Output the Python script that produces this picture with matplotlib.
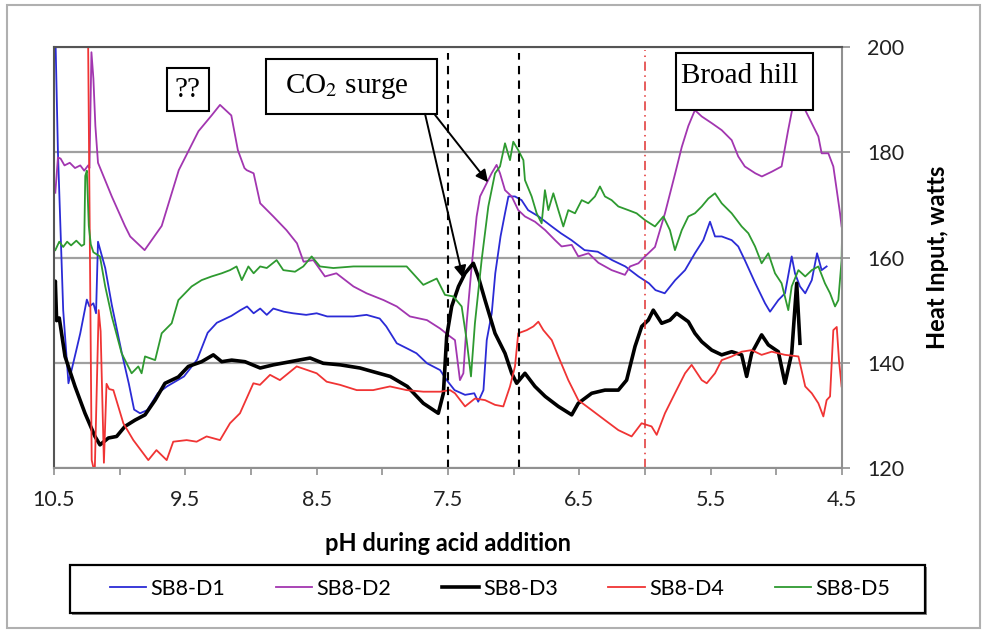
import matplotlib.pyplot as plt
from matplotlib.patches import Rectangle

plt.rcParams['font.family'] = ['Lato', 'DejaVu Sans']
plt.rcParams['mathtext.fontset'] = 'stix'

# SB8-D1 (blue)
ph_d1 = [10.49, 10.47, 10.43, 10.39, 10.33, 10.30, 10.25, 10.23, 10.20, 10.18, 10.165, 10.11,
         10.06, 9.985, 9.93, 9.89, 9.845, 9.79, 9.71, 9.64, 9.51, 9.41, 9.33, 9.26, 9.15, 9.08,
         9.03, 8.98, 8.93, 8.88, 8.83, 8.75, 8.68, 8.58, 8.50, 8.42, 8.22, 8.12, 8.02, 7.97, 7.89,
         7.81, 7.74, 7.66, 7.56, 7.51, 7.45, 7.37, 7.30, 7.27, 7.23, 7.205, 7.167, 7.14, 7.10,
         7.066, 7.04, 6.99, 6.94, 6.89, 6.81, 6.71, 6.64, 6.56, 6.46, 6.36, 6.25, 6.15, 6.05, 5.97,
         5.92, 5.85, 5.77, 5.695, 5.62, 5.556, 5.505, 5.467, 5.416, 5.34, 5.29, 5.24, 5.16, 5.086,
         5.048, 4.985, 4.934, 4.883, 4.858, 4.82, 4.78, 4.73, 4.69, 4.655, 4.617]
w_d1 = [203, 180, 150, 136.1, 142.4, 145.6, 152, 150.7, 151.3, 149.4, 163, 158,
        151, 142, 136, 131.1, 130.4, 131, 134.2, 135.5, 137.4, 140.6, 145.7, 147.6, 148.9, 150.0,
        150.7, 149.4, 150.3, 149.1, 150.3, 149.7, 149.4, 149.1, 149.4, 148.8, 148.8, 149.1, 148.4, 146.9, 143.7,
        142.7, 141.8, 139.9, 138.6, 136.7, 134.8, 133.9, 134.2, 132.6, 134.8, 144.3, 149.4, 157.0, 164.0,
        168.4, 171.6, 171.6, 170.9, 169.0, 167.8, 165.9, 164.6, 163.3, 161.4, 161.1, 159.5, 158.3, 156.4, 155.1,
        153.8, 153.2, 155.7, 157.6, 160.8, 163.3, 166.8, 164, 164, 163.3, 162.1, 159.5, 155.1, 151.3,
        149.7, 151.9, 153.2, 160.2, 157, 154.5, 153.2, 155.7, 160.8, 157.6, 158.3]

# SB8-D2 (purple)
ph_d2 = [10.49, 10.47, 10.45, 10.42, 10.38, 10.34, 10.30, 10.27, 10.24, 10.23, 10.215, 10.20,
         10.185, 10.165, 10.06, 9.96, 9.92, 9.81, 9.68, 9.55, 9.40, 9.30, 9.236, 9.15, 9.10,
         9.05, 9.033, 8.98, 8.93, 8.83, 8.73, 8.65, 8.60, 8.525, 8.437, 8.35, 8.22, 8.12, 7.99,
         7.89, 7.79, 7.66, 7.56, 7.485, 7.447, 7.409, 7.383, 7.358, 7.32, 7.282, 7.256, 7.218,
         7.168, 7.13, 7.104, 7.066, 7.015, 6.965, 6.914, 6.838, 6.76, 6.685, 6.635, 6.558, 6.508,
         6.43, 6.355, 6.254, 6.153, 6.114, 6.05, 6.0, 5.924, 5.848, 5.77, 5.72, 5.67, 5.62, 5.568,
         5.49, 5.416, 5.34, 5.29, 5.24, 5.16, 5.11, 5.035, 4.96, 4.91, 4.87, 4.83, 4.78, 4.73,
         4.68, 4.655, 4.604, 4.566, 4.54, 4.515, 4.503]
w_d2 = [172.3, 179, 178.8, 177.5, 178, 177, 177.5, 176.5, 177.5, 177, 199, 194,
        185, 178, 171.6, 166, 164, 161.4, 166, 176.6, 184, 187, 189, 187, 180.4,
        177, 176.6, 176, 170.3, 167.8, 165.2, 162.7, 159.2, 159.5, 156.4, 157, 154.5, 153.2, 151.9,
        150.7, 148.8, 148.1, 146.5, 145.0, 144.3, 136.7, 138, 147.5, 158.3, 167.8, 171.6, 173.5,
        176, 177.6, 176, 172.8, 171.6, 169, 167.8, 166.8, 165.2, 163.3, 162.1, 162.4, 160.2,
        160.8, 159, 157.6, 156.7, 158.3, 158.9, 160.2, 162, 168.4, 176, 181, 185, 188, 186.8,
        185.5, 184.2, 182.3, 179.2, 177.3, 176, 175.4, 176.3, 177.3, 184.2, 189.3, 189.9, 188, 185.5,
        183, 179.8, 179.8, 177.3, 172.8, 168.4, 165.9]

# SB8-D3 (black)
ph_d3 = [10.5, 10.49, 10.48, 10.46, 10.416, 10.34, 10.264, 10.188, 10.15, 10.086, 10.023, 9.96,
         9.883, 9.807, 9.73, 9.655, 9.553, 9.477, 9.376, 9.287, 9.223, 9.147, 9.046, 8.93, 8.83,
         8.68, 8.55, 8.45, 8.32, 8.17, 8.07, 7.94, 7.81, 7.688, 7.574, 7.535, 7.51, 7.472, 7.42,
         7.37, 7.307, 7.27, 7.218, 7.142, 7.066, 7.015, 6.977, 6.914, 6.838, 6.76, 6.66, 6.558,
         6.508, 6.406, 6.305, 6.203, 6.14, 6.076, 6.025, 5.975, 5.937, 5.873, 5.81, 5.759, 5.67,
         5.62, 5.568, 5.492, 5.416, 5.34, 5.264, 5.226, 5.188, 5.112, 5.061, 4.985, 4.934, 4.883,
         4.845, 4.82]
w_d3 = [151, 155.5, 148, 148.5, 141.2, 135.5, 130.4, 126, 124.4, 125.7, 126, 127.9,
        129.1, 130.1, 132.9, 136.1, 137.3, 139.3, 140.2, 141.5, 140.2, 140.5, 140.2, 139.0, 139.6,
        140.3, 140.9, 139.9, 139.6, 139.0, 138.3, 137.4, 135.5, 132.3, 130.4, 134.2, 145.0, 150.7, 154.5,
        157, 158.9, 156.4, 151.9, 145.6, 141.8, 138, 136.1, 138, 135.5, 133.6, 131.7, 130.1,
        132.3, 134.2, 134.8, 134.8, 136.7, 143.1, 146.9, 148.1, 150, 147.5, 148.1, 149.4, 147.8,
        145.6, 144, 142.4, 141.5, 142.1, 141.5, 137.4, 141.8, 145.3, 143.4, 142.1, 136.1, 141.8,
        155.1, 143.7]

# SB8-D4 (red)
ph_d4 = [10.245, 10.213, 10.19, 10.16, 10.145, 10.12, 10.10, 10.08, 10.048, 9.972, 9.896, 9.782,
         9.72, 9.642, 9.592, 9.49, 9.414, 9.338, 9.236, 9.16, 9.084, 8.982, 8.932, 8.855, 8.78,
         8.652, 8.5, 8.424, 8.322, 8.195, 8.07, 7.942, 7.815, 7.688, 7.56, 7.485, 7.447, 7.37,
         7.295, 7.218, 7.142, 7.079, 7.028, 6.99, 6.965, 6.9, 6.85, 6.812, 6.774, 6.71, 6.66,
         6.584, 6.508, 6.406, 6.305, 6.203, 6.102, 6.026, 5.95, 5.911, 5.848, 5.772, 5.695, 5.645,
         5.568, 5.53, 5.467, 5.416, 5.34, 5.264, 5.188, 5.112, 5.035, 4.934, 4.832, 4.78, 4.73,
         4.68, 4.642, 4.617, 4.591, 4.566, 4.54, 4.523, 4.503]
w_d4 = [215, 121.5, 119, 150, 146, 121, 136, 135, 134.8, 128.5, 125.3, 121.5,
        123.4, 121.5, 125, 125.3, 125, 126, 125.3, 128.5, 130.4, 136.1, 135.8, 137.7, 136.7,
        139.3, 138, 136.4, 135.8, 134.8, 134.8, 135.5, 134.8, 134.5, 134.5, 134.8, 134.2, 131.7,
        133.2, 132.9, 132, 131.7, 135.5, 139.3, 145.6, 146.2, 146.9, 147.8, 146.2, 144.3, 141.2,
        136.7, 132.9, 131, 129.1, 127.2, 126, 128.5, 127.9, 126.3, 130.4, 134.2, 138, 139.6,
        136.7, 136.1, 138, 140.5, 141.2, 142.1, 142.4, 141.5, 142.1, 141.5, 141.2, 135.5, 134.2,
        132.3, 129.8, 132.9, 133.6, 146.2, 146.8, 140.5, 135.5]

# SB8-D5 (green)
ph_d5 = [10.49, 10.46, 10.43, 10.40, 10.37, 10.33, 10.29, 10.27, 10.262, 10.25, 10.235, 10.22,
         10.20, 10.15, 10.11, 10.06, 9.985, 9.909, 9.858, 9.833, 9.807, 9.73, 9.68, 9.604, 9.553,
         9.452, 9.376, 9.30, 9.223, 9.16, 9.11, 9.07, 9.02, 8.98, 8.93, 8.88, 8.805, 8.754, 8.665,
         8.602, 8.538, 8.475, 8.373, 8.22, 8.069, 7.815, 7.688, 7.586, 7.523, 7.46, 7.396, 7.358,
         7.325, 7.295, 7.244, 7.193, 7.142, 7.104, 7.066, 7.028, 7.003, 6.965, 6.926, 6.914, 6.863,
         6.825, 6.787, 6.762, 6.736, 6.698, 6.66, 6.622, 6.584, 6.533, 6.482, 6.432, 6.381, 6.343,
         6.305, 6.254, 6.203, 6.127, 6.064, 6.0, 5.924, 5.86, 5.81, 5.772, 5.72, 5.67, 5.62, 5.568,
         5.518, 5.467, 5.416, 5.34, 5.264, 5.213, 5.162, 5.112, 5.061, 5.01, 4.96, 4.909, 4.883,
         4.832, 4.78, 4.73, 4.68, 4.63, 4.591, 4.553, 4.528, 4.503, 4.498]
w_d5 = [161.4, 163, 162, 163, 162.3, 163.2, 162.2, 162.5, 175.5, 176.5, 166, 162.5,
        161, 160.2, 154.5, 148.8, 141.8, 138, 139.3, 138, 141.2, 140.5, 145.6, 147.5, 151.9,
        154.5, 155.7, 156.4, 157, 157.6, 158.3, 155.7, 158.3, 157, 158.3, 158, 159.5, 157.6, 157.3,
        158.3, 160.2, 158.3, 158, 158.3, 158.3, 158.3, 154.8, 156, 152.9, 152.6, 150.7, 144.3,
        137.4, 147.5, 159.5, 169.7, 176, 177.3, 181.7, 178.5, 182, 180.4, 178.5, 174.7, 171.6,
        168.4, 166.5, 172.8, 169, 172.2, 169, 165.9, 169, 168.4, 170.9, 170.3, 171.6, 173.5,
        171.6, 170.9, 169.7, 169, 168.4, 167.1, 165.9, 167.8, 165.2, 161.4, 165.2, 167.8, 168.4, 169.7,
        171.2, 172.2, 170.3, 168.4, 165.9, 164.6, 162.1, 158.9, 160.8, 157, 155.1, 150, 154.5,
        157.6, 156.4, 157.6, 158.3, 155.1, 153.2, 150.7, 151.9, 159.5, 166.5]

series = [
    ('SB8-D1', ph_d1, w_d1, '#2b2bd6', 1.3),
    ('SB8-D2', ph_d2, w_d2, '#a236b0', 1.3),
    ('SB8-D3', ph_d3, w_d3, '#000000', 2.6),
    ('SB8-D4', ph_d4, w_d4, '#f03434', 1.3),
    ('SB8-D5', ph_d5, w_d5, '#2e9a30', 1.3),
]

fig = plt.figure(figsize=(9.82, 6.30), dpi=100)
ax = fig.add_axes([54/982, 1 - 468/630, 788/982, 421/630])

for name, x, y, col, lw in series:
    ax.plot(x, y, color=col, lw=lw, label=name)

# event markers
ax.vlines([7.5, 6.96], 120, 198.8, colors='black', linestyles=(0, (4, 3)), lw=1.5)
ax.vlines([6.0], 120, 199.4, colors='#e03030', linestyles=(0, (6, 3, 1, 3)), lw=1.1)

ax.set_xlim(10.5, 4.5)
ax.set_ylim(120, 200)
ax.set_xticks([10.5, 10, 9.5, 9, 8.5, 8, 7.5, 7, 6.5, 6, 5.5, 5, 4.5])
ax.set_xticklabels(['10.5', '', '9.5', '', '8.5', '', '7.5', '', '6.5', '', '5.5', '', '4.5'])
ax.set_yticks([120, 140, 160, 180, 200])
ax.yaxis.tick_right()
ax.yaxis.set_label_position('right')
ax.tick_params(axis='x', direction='out', length=5, width=1.2, color='#909090', pad=11,
               labelsize=15.5, labelcolor='#222222')
ax.tick_params(axis='y', direction='out', length=6, width=1.2, color='#909090', pad=12,
               labelsize=15.5, labelcolor='#222222')
ax.grid(axis='y', color='#a0a0a0', lw=1.6)
ax.set_axisbelow(True)
for side in ['left', 'top']:
    ax.spines[side].set_color('#555555')
    ax.spines[side].set_linewidth(1.5)
for side in ['right', 'bottom']:
    ax.spines[side].set_color('#909090')
    ax.spines[side].set_linewidth(1.5)

ax.set_xlabel('pH during acid addition', fontsize=17, fontweight='bold', labelpad=16)
ax.set_ylabel('Heat Input, watts', fontsize=17, fontweight='bold', labelpad=16)

# annotation boxes (axes fraction)
boxes = [
    ('??', 0.1434, 0.8480, 0.0533, 0.1021, 0.170, 0.898),
    ('CO$_2$ surge', 0.2690, 0.8409, 0.2170, 0.1306, 0.3718, 0.905),
    ('Broad hill', 0.7893, 0.8504, 0.1739, 0.1353, 0.870, 0.930),
]
for txt, bx, by, bw, bh, tx, ty in boxes:
    ax.add_patch(Rectangle((bx, by), bw, bh, transform=ax.transAxes, fc='white',
                           ec='black', lw=1.5, zorder=6, clip_on=False))
    ax.text(tx, ty, txt, transform=ax.transAxes, ha='center', va='center',
            family='Liberation Serif', fontsize=21, zorder=7)

arrow = dict(arrowstyle='-|>', color='black', lw=1.4, mutation_scale=18, shrinkA=0, shrinkB=0)
ax.annotate('', xy=(7.386, 156.1), xytext=(7.675, 187.3), arrowprops=arrow, zorder=8)
ax.annotate('', xy=(7.195, 174.3), xytext=(7.599, 187.1), arrowprops=arrow, zorder=8)

# legend box with a slight drop shadow
fig.patches.append(Rectangle((72/982, 1 - 615/630), 855/982, 48/630, transform=fig.transFigure,
                             fc='#8a8a8a', ec='none'))
fig.patches.append(Rectangle((70/982, 1 - 613/630), 855/982, 48/630, transform=fig.transFigure,
                             fc='white', ec='black', lw=1.6))
leg = fig.legend(loc='center', ncol=5, bbox_to_anchor=(500/982, 1 - 589/630),
                 fontsize=15.5, handlelength=1.7, handletextpad=0.2, columnspacing=2.35,
                 frameon=False)

fig.patches.append(Rectangle((7/982, 2/630), 973/982, 623/630, transform=fig.transFigure,
                             fill=False, ec='#b0b0b0', lw=1.5))

fig.savefig('out.png', dpi=100)
